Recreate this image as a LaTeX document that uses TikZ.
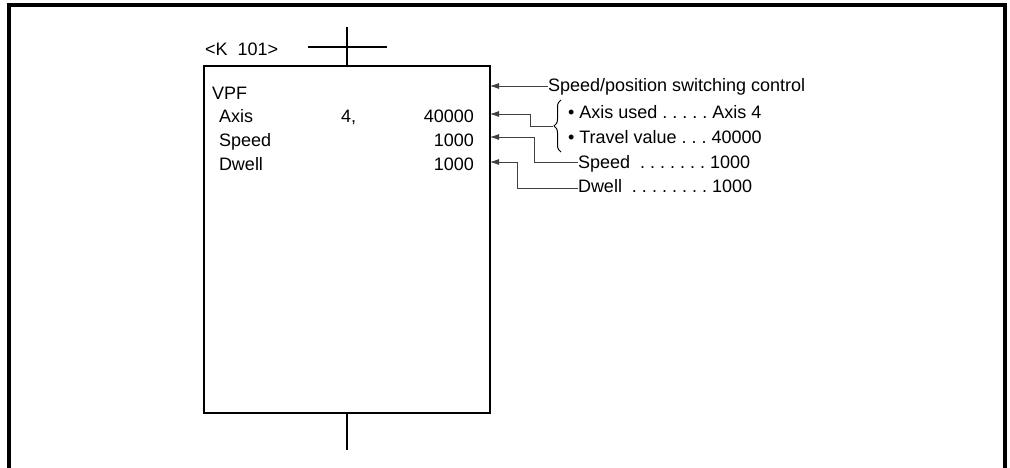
\documentclass[tikz,border=0pt]{standalone}
\usepackage{fontspec}
\setmainfont{Liberation Sans}
\usetikzlibrary{arrows.meta,decorations.pathreplacing}
\frenchspacing
\begin{document}
\begin{tikzpicture}[x=1pt,y=-1pt,
  every node/.style={font=\fontsize{18}{21}\selectfont,inner sep=0pt,outer sep=0pt},
  frame/.style={line width=4pt},
  boxline/.style={line width=1.6pt},
  stem/.style={line width=1.3pt},
  conn/.style={line width=0.8pt,draw=black!75},
  arr/.style={conn,{Latex[length=9pt,width=6pt]}-},
  txt/.style={anchor=base west},
  num/.style={anchor=base east}]
\useasboundingbox (0,0) rectangle (1010,468);
% outer frame (open at the bottom)
\draw[frame] (9,468) -- (9,5) -- (1005,5) -- (1005,468);
% step box
\node[draw,boxline,minimum width=286pt,minimum height=347pt,anchor=north west] (box) at (204,66) {};
\coordinate (topend) at (347,27);
\coordinate (botend) at (347,450);
\draw[stem] (topend) -- (box.north -| topend);
\draw[stem] (308,47) -- (387,47);
\draw[stem] (box.south -| botend) -- (botend);
\node[txt] (klabel) at (205,56) {<K\ \ 101>};
% box contents
\node[txt] (vpf) at (212,100) {VPF};
\node[txt] (axl) at (219,123) {Axis};
\node[txt] (axn) at (341,123) {4,};
\node[num] (axv) at (474,123) {40000};
\node[txt] (spl) at (219,147) {Speed};
\node[num] (spv) at (474,147) {1000};
\node[txt] (dwl) at (219,171) {Dwell};
\node[num] (dwv) at (474,171) {1000};
% explanations
\node[txt] (ctl) at (548,92) {Speed/position switching control};
\node[txt] (axu) at (568,119) {• Axis used . . . . . Axis 4};
\node[txt] (trv) at (568,144) {• Travel value . . . 40000};
\node[txt] (spd) at (578,168) {Speed\ \ . . . . . . . 1000};
\node[txt] (dwe) at (578,193) {Dwell\ \ . . . . . . . . 1000};
% brace
\coordinate (brb) at (561,152);
\coordinate (brt) at (561,100);
\draw[line width=1pt,decorate,decoration={brace,amplitude=7pt}] (brb) -- (brt);
\coordinate (brtip) at (553,126);
% connectors
\draw[arr] (box.east |- 0,86) -- (ctl.west |- 0,86);
\draw[arr] (box.east |- 0,114) -- (530,114) |- (brtip);
\draw[arr] (box.east |- 0,137) -- (534,137) |- (spd.west |- 0,162);
\draw[arr] (box.east |- 0,162) -- (517,162) |- (dwe.west |- 0,188);
\end{tikzpicture}
\end{document}
